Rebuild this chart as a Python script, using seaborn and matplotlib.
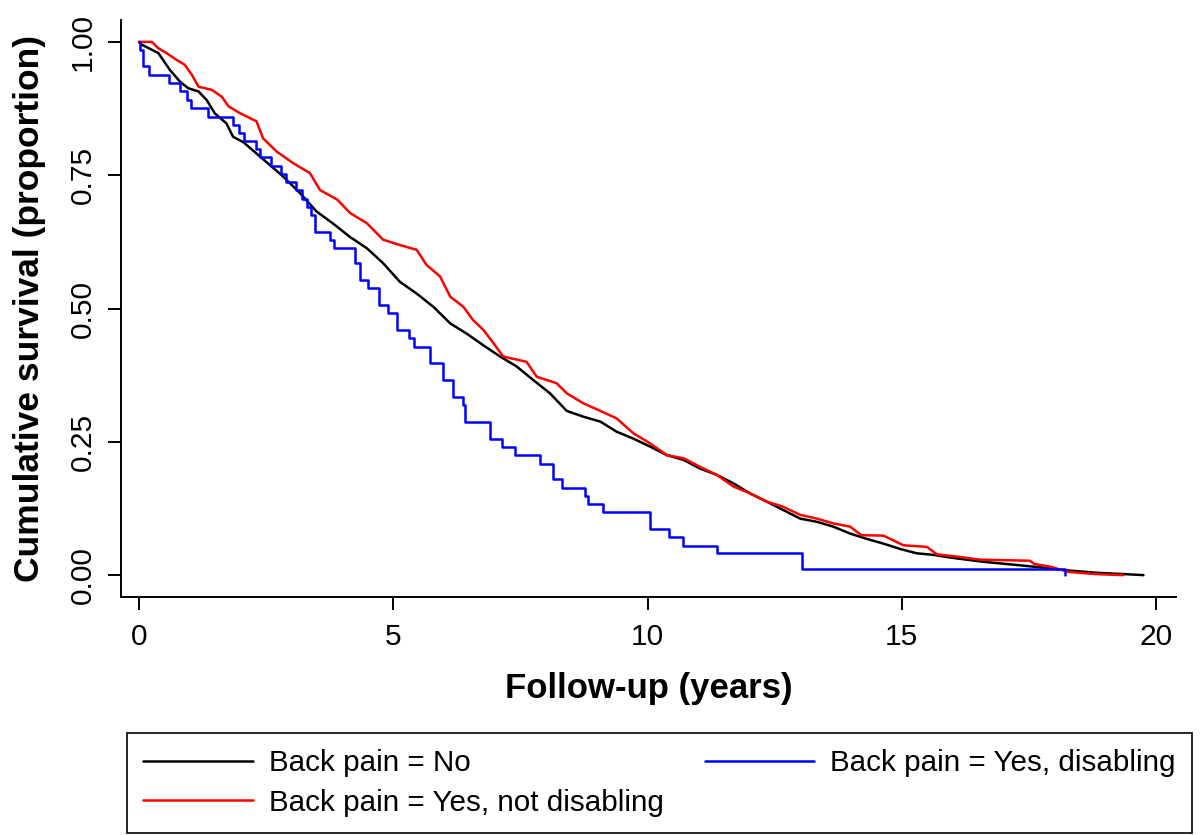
import numpy as np
import pandas as pd
import seaborn as sns
import matplotlib
matplotlib.use('Agg')
import matplotlib.pyplot as plt
from matplotlib.lines import Line2D

# Curvas (anos, sobrevivência)
tempo_nao = [0, 0.05, 0.38, 0.61, 0.81, 0.97, 1.17, 1.33, 1.49, 1.72, 1.85, 2.05, 2.38, 2.84,
             3.17, 3.49, 3.82, 4.15, 4.48, 4.80, 5.13, 5.46, 5.79, 6.12, 6.44, 6.77, 7.10, 7.43,
             7.75, 8.08, 8.41, 8.74, 9.07, 9.39, 9.72, 10.05, 10.38, 10.71, 11.03, 11.36, 11.69,
             12.02, 12.34, 12.67, 13.00, 13.33, 13.65, 13.98, 14.31, 14.64, 14.97, 15.29, 15.62,
             15.95, 16.60, 17.26, 17.78, 18.24, 18.90, 19.36, 19.75]
surv_nao = [1.0, 0.995, 0.979, 0.947, 0.925, 0.913, 0.907, 0.891, 0.866, 0.847, 0.822, 0.812, 0.785, 0.747,
            0.716, 0.682, 0.659, 0.634, 0.613, 0.585, 0.550, 0.528, 0.503, 0.472, 0.453, 0.431, 0.410, 0.391,
            0.366, 0.341, 0.308, 0.297, 0.288, 0.269, 0.256, 0.241, 0.225, 0.216, 0.200, 0.188, 0.172,
            0.153, 0.138, 0.122, 0.106, 0.100, 0.091, 0.078, 0.068, 0.059, 0.049, 0.041, 0.038,
            0.033, 0.025, 0.019, 0.014, 0.009, 0.004, 0.002, 0.0]

tempo_leve = [0, 0.25, 0.38, 0.54, 0.74, 0.90, 1.04, 1.17, 1.43, 1.63, 1.76, 1.99, 2.31, 2.44, 2.71,
              3.04, 3.36, 3.56, 3.90, 4.15, 4.48, 4.80, 5.13, 5.46, 5.65, 5.92, 6.12, 6.38, 6.57,
              6.77, 6.97, 7.16, 7.62, 7.82, 8.21, 8.41, 8.74, 9.07, 9.39, 9.72, 10.05, 10.38, 10.71,
              11.03, 11.36, 11.69, 12.02, 12.34, 12.67, 13.00, 13.33, 13.65, 13.98, 14.20, 14.64,
              14.90, 15.03, 15.49, 15.69, 16.15, 16.54, 17.52, 17.60, 17.91, 18.28, 18.80, 19.35]
surv_leve = [1.0, 1.0, 0.988, 0.979, 0.966, 0.957, 0.938, 0.916, 0.910, 0.897, 0.879, 0.866, 0.851, 0.819, 0.794,
             0.772, 0.754, 0.722, 0.704, 0.679, 0.660, 0.629, 0.619, 0.610, 0.582, 0.560, 0.522, 0.503, 0.478,
             0.460, 0.435, 0.410, 0.400, 0.372, 0.360, 0.341, 0.322, 0.308, 0.294, 0.266, 0.247, 0.225, 0.219,
             0.203, 0.188, 0.166, 0.153, 0.138, 0.128, 0.113, 0.106, 0.097, 0.091, 0.075, 0.074,
             0.062, 0.056, 0.053, 0.039, 0.034, 0.029, 0.027, 0.021, 0.016, 0.006, 0.002, 0.0]

tempo_incap = [0, 0.02, 0.085, 0.2, 0.59, 0.81, 0.95, 1.02, 1.35, 1.85, 1.97, 2.07, 2.30, 2.38, 2.59,
               2.80, 2.89, 3.09, 3.21, 3.30, 3.38, 3.47, 3.75, 3.84, 4.25, 4.35, 4.51, 4.71, 4.90,
               5.07, 5.30, 5.40, 5.72, 5.98, 6.18, 6.38, 6.41, 6.90, 7.13, 7.39, 7.89, 8.15, 8.31,
               8.77, 8.83, 9.13, 10.05, 10.43, 10.69, 11.36, 13.03, 18.2]
surv_incap = [1.0, 0.985, 0.954, 0.938, 0.922, 0.907, 0.891, 0.876, 0.860, 0.845, 0.830, 0.814, 0.799, 0.784, 0.768,
              0.753, 0.737, 0.722, 0.706, 0.691, 0.676, 0.644, 0.628, 0.614, 0.585, 0.553, 0.538, 0.507, 0.491,
              0.460, 0.444, 0.428, 0.397, 0.366, 0.334, 0.319, 0.288, 0.256, 0.241, 0.225, 0.209, 0.180, 0.164,
              0.149, 0.133, 0.118, 0.086, 0.071, 0.055, 0.041, 0.011, 0.0]

rotulos = ['Back pain = No', 'Back pain = Yes, not disabling', 'Back pain = Yes, disabling']
cores = ['#000000', '#FF0000', '#0000FF']

sns.set_theme(style='ticks')
plt.rcParams['font.family'] = ['Liberation Sans', 'DejaVu Sans']
plt.rcParams['text.color'] = 'black'
plt.rcParams['axes.labelcolor'] = 'black'
plt.rcParams['xtick.color'] = 'black'
plt.rcParams['ytick.color'] = 'black'

fig = plt.figure(figsize=(12.01, 8.35), dpi=100)
ax = fig.add_axes([121 / 1201, 1 - 597 / 835, (1176 - 121) / 1201, (597 - 20) / 835])

df_nao = pd.DataFrame({'tempo': tempo_nao, 'surv': surv_nao})
df_leve = pd.DataFrame({'tempo': tempo_leve, 'surv': surv_leve})
df_incap = pd.DataFrame({'tempo': tempo_incap, 'surv': surv_incap})

sns.lineplot(data=df_nao, x='tempo', y='surv', color=cores[0], lw=1.8, estimator=None, sort=False, ax=ax)
sns.lineplot(data=df_leve, x='tempo', y='surv', color=cores[1], lw=1.8, estimator=None, sort=False, ax=ax)
sns.lineplot(data=df_incap, x='tempo', y='surv', color=cores[2], lw=1.8, estimator=None, sort=False,
             drawstyle='steps-post', ax=ax)

ax.set_xlim(-0.354, 20.39)
ax.set_ylim(-0.041, 1.041)
ax.set_xticks([0, 5, 10, 15, 20])
ax.set_yticks([0, 0.25, 0.5, 0.75, 1.0])
ax.set_yticklabels(['0.00', '0.25', '0.50', '0.75', '1.00'])
sns.despine(ax=ax)
for s in ['left', 'bottom']:
    ax.spines[s].set_linewidth(1.4)
    ax.spines[s].set_color('black')
ax.tick_params(axis='both', length=9.5, width=1.4, labelsize=21.5)
ax.tick_params(axis='x', pad=9)
ax.tick_params(axis='y', pad=8)
for lab in ax.get_yticklabels():
    lab.set_rotation(90)
    lab.set_va('center')

ax.set_xlabel('Follow-up (years)', fontsize=25, fontweight='bold', labelpad=15)
ax.set_ylabel('Cumulative survival (proportion)', fontsize=25.5, fontweight='bold', labelpad=16)

# Legenda embaixo
handles = [Line2D([], [], color=c, lw=1.8) for c in cores]
leg = fig.legend(handles, rotulos, loc='lower left', ncol=2, mode='expand',
                 bbox_to_anchor=(127 / 1201, 2 / 835, 1065 / 1201, 100 / 835),
                 fontsize=21.3, frameon=True, fancybox=False, framealpha=1, edgecolor='black',
                 handlelength=3.7, handletextpad=0.55, borderpad=0.55, labelspacing=0.4,
                 borderaxespad=0)
leg.get_frame().set_linewidth(1.2)

plt.savefig('out.png', dpi=100)
